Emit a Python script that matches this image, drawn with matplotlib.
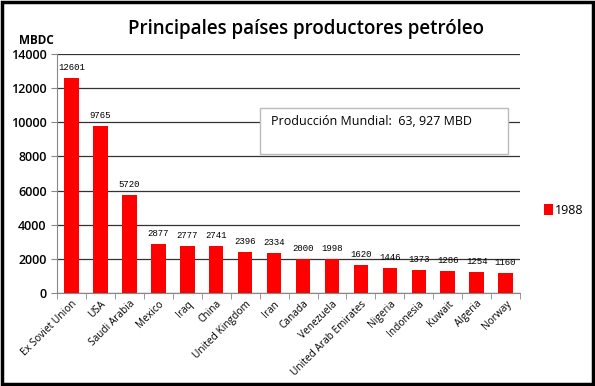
import numpy as np
import matplotlib.pyplot as plt
from matplotlib.patches import Rectangle

countries = ['Ex Soviet Union', 'USA', 'Saudi Arabia', 'Mexico', 'Iraq', 'China',
             'United Kingdom', 'Iran', 'Canada', 'Venezuela', 'United Arab Emirates',
             'Nigeria', 'Indonesia', 'Kuwait', 'Algeria', 'Norway']
prod_1988 = [12601, 9765, 5720, 2877, 2777, 2741, 2396, 2334, 2000, 1998, 1620,
             1446, 1373, 1286, 1254, 1160]
yticks = [0, 2000, 4000, 6000, 8000, 10000, 12000, 14000]

plt.rcParams['font.family'] = ['Open Sans', 'DejaVu Sans']

fig = plt.figure(figsize=(5.95, 3.86), dpi=100)
ax = fig.add_axes([0.096, 0.241, 0.778, 0.619])

x = np.arange(len(countries))
bars = ax.bar(x, prod_1988, width=0.5, color='#ff0000', label='1988', zorder=3)
for xi, v in zip(x, prod_1988):
    ax.text(xi, v + 350, str(v), ha='center', va='bottom', fontsize=6.5,
            family='Liberation Mono', zorder=4)

ax.set_xlim(-0.5, len(countries) - 0.5)
ax.set_ylim(0, 14000)
ax.set_yticks(yticks)
ax.set_yticklabels([str(t) for t in yticks], fontsize=9, fontweight='semibold')
ax.set_xticks(x)
ax.set_xticklabels(countries, rotation=45, ha='right', rotation_mode='anchor', fontsize=7.3)
ax.tick_params(axis='x', length=0, pad=4)
ax.set_xticks(np.arange(-0.5, len(countries), 1), minor=True)
ax.tick_params(axis='x', which='minor', length=4, color='#888888')
ax.tick_params(axis='y', length=4, color='#888888')
ax.grid(axis='y', color='#333333', linewidth=0.9, zorder=0)
for s in ['top', 'right']:
    ax.spines[s].set_visible(False)
ax.spines['left'].set_color('#888888')
ax.spines['bottom'].set_color('#888888')

fig.text(0.061, 0.896, 'MBDC', fontsize=8.5, fontweight='bold', ha='center', va='center')
fig.text(0.515, 0.9, 'Principales países productores petróleo', fontsize=13.5,
         fontweight='semibold', ha='center', va='bottom')

# annotation box
fig.patches.append(Rectangle((0.437, 0.601), 0.417, 0.119, transform=fig.transFigure,
                             facecolor='white', edgecolor='#bbbbbb', linewidth=1, zorder=5))
fig.text(0.455, 0.684, 'Producción Mundial:  63, 927 MBD', fontsize=9,
         va='center', ha='left', zorder=6)

fig.legend(handles=[bars], labels=['1988'], loc='center left',
           bbox_to_anchor=(0.895, 0.455), frameon=False, fontsize=9,
           handlelength=0.7, handleheight=0.9, handletextpad=0.2)

fig.patches.append(Rectangle((0.003, 0.004), 0.994, 0.992, transform=fig.transFigure,
                             fill=False, edgecolor='black', linewidth=2.5))

fig.savefig('out.png', dpi=100)
